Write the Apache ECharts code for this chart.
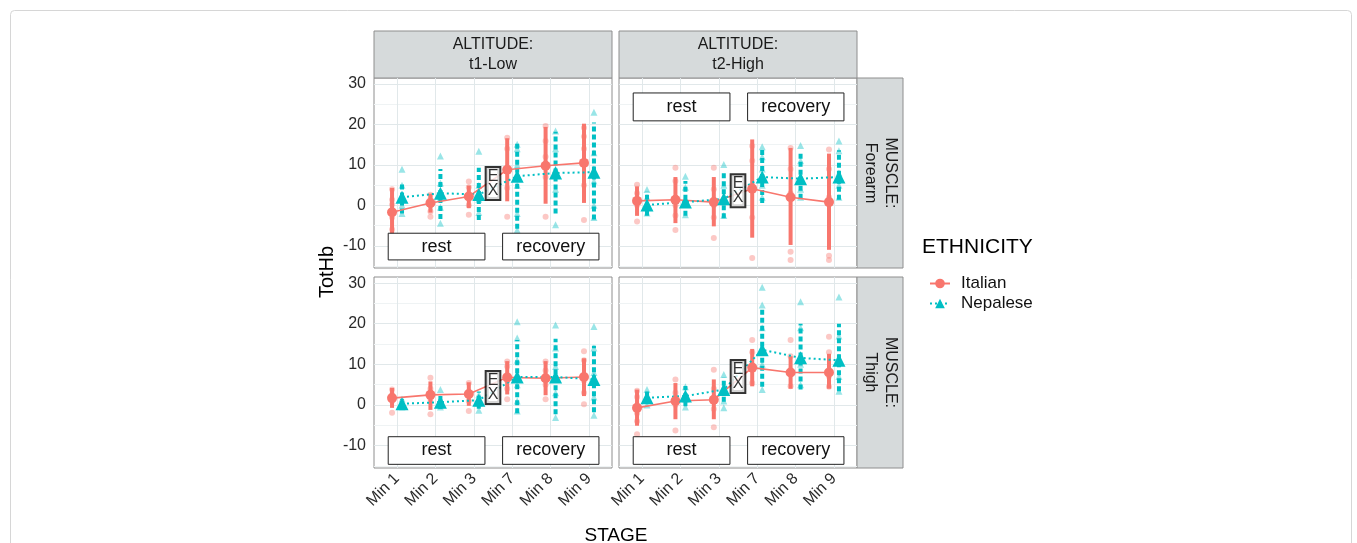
<!DOCTYPE html>
<html><head><meta charset="utf-8">
<script src="https://cdn.jsdelivr.net/npm/echarts@6/dist/echarts.min.js"></script>
<style>html,body{margin:0;padding:0;background:#fff}#c{width:1357px;height:543px}</style>
</head><body><div id="c"></div><script>
// ---------- categories / ticks ----------
const stages = ['Min 1', 'Min 2', 'Min 3', 'Min 7', 'Min 8', 'Min 9'];
const yTicks = [-10, 0, 10, 20, 30];
const yMinor = [-15, -5, 5, 15, 25];
const altitudes = ['t1-Low', 't2-High'];
const muscles = ['Forearm', 'Thigh'];
const ethnicities = ['Italian', 'Nepalese'];

// ---------- ALTITUDE t1-Low, MUSCLE Forearm ----------
const lowForearmItalianMean = [-1.7, 0.6, 2.2, 8.8, 9.8, 10.5];
const lowForearmItalianLo   = [-7.8, -1.8, -0.7, 1.0, 0.4, 0.6];
const lowForearmItalianHi   = [4.3, 2.9, 4.9, 16.6, 19.4, 20.2];
const lowForearmItalianRaw  = [[4, 1.4, 0.2, -3, -6], [2.6, 1.5, 0, -1.5, -2.8], [5.9, 4.5, 2, 0, -2.3], [16.7, 14, 9, 4.3, -2.8], [19.6, 15.9, 12, 7, -2.8], [19.2, 17, 14, 5, -3.6]];
const lowForearmNepaleseMean = [2.0, 3.0, 2.7, 7.2, 8.0, 8.2];
const lowForearmNepaleseLo   = [-2.0, -3.4, -3.6, -5.8, -2.0, -3.5];
const lowForearmNepaleseHi   = [5.9, 9.0, 9.3, 15.3, 18.2, 20.5];
const lowForearmNepaleseRaw  = [[8.9, 5, 2.5, 0, -2], [12.2, 5.5, 2, -0.5, -4.4], [13.4, 5, 1.5, -1.8], [15.1, 14, 10, 5, -2, -6.1], [18.4, 14, 9, 4, -4.8], [23, 13, 6, 0, -3]];

// ---------- ALTITUDE t2-High, MUSCLE Forearm ----------
const highForearmItalianMean = [1.1, 1.4, 0.8, 4.1, 2.0, 0.8];
const highForearmItalianLo   = [-2.6, -4.4, -5.2, -8.0, -9.8, -11.0];
const highForearmItalianHi   = [4.7, 7.0, 7.0, 16.3, 14.2, 12.8];
const highForearmItalianRaw  = [[5.1, 3, 0, -4], [9.3, 6, 0, -2.5, -6.1], [9.3, 4, 0, -3, -8.1], [14.7, 11, 5, -3, -13], [14.2, 9, 3, -11.5, -13.5], [13.8, 9, 2, -12.5, -13.5]];
const highForearmNepaleseMean = [0.1, 0.8, 1.6, 7.0, 6.6, 7.0];
const highForearmNepaleseLo   = [-2.6, -2.6, -3.2, 0.6, 1.6, 1.4];
const highForearmNepaleseHi   = [3.4, 6.0, 8.2, 14.0, 12.8, 13.6];
const highForearmNepaleseRaw  = [[3.9, 2, 0, -1.9], [7.2, 4.5, 1, -2.3], [10.1, 5, 1, -2.5], [14.5, 12, 9, 5, 2], [14.8, 11, 7, 4, 2], [15.9, 13.5, 8, 5, 2]];

// ---------- ALTITUDE t1-Low, MUSCLE Thigh ----------
const lowThighItalianMean = [1.7, 2.5, 2.7, 6.8, 6.6, 6.9];
const lowThighItalianLo   = [-0.7, -1.2, -0.2, 2.6, 2.4, 2.2];
const lowThighItalianHi   = [4.2, 5.8, 5.6, 10.8, 10.8, 11.5];
const lowThighItalianRaw  = [[3.8, 2.5, 1, -1.9], [6.7, 4, 1.5, -2.3], [5.4, 3, 1, -1.5], [10.7, 9.5, 6, 4, 1.4], [10.7, 8.5, 5, 1.4], [13.2, 11, 6, 3, 0.2]];
const lowThighNepaleseMean = [0.3, 0.7, 1.2, 6.9, 6.9, 6.3];
const lowThighNepaleseLo   = [-0.8, -1.0, -0.9, -2.0, -2.3, -1.8];
const lowThighNepaleseHi   = [1.4, 2.4, 3.3, 16.0, 16.3, 14.6];
const lowThighNepaleseRaw  = [[1.5, 0.3, -0.5], [3.8, 1.5, 0, -0.5], [2.5, 0.5, -1.3], [20.5, 16.5, 11, 5, 1, -1.5], [19.7, 14, 9.5, 3, -3.1], [19.3, 14, 8, 2, -2.5]];

// ---------- ALTITUDE t2-High, MUSCLE Thigh ----------
const highThighItalianMean = [-0.7, 1.0, 1.3, 9.2, 8.0, 8.0];
const highThighItalianLo   = [-5.1, -3.5, -3.5, 4.6, 4.0, 4.0];
const highThighItalianHi   = [3.8, 5.4, 6.3, 13.8, 12.0, 12.6];
const highThighItalianRaw  = [[3.5, 2, -2, -4, -7.2], [6.3, 3, 0, -6.3], [8.7, 4, -1, -5.5], [16, 13, 9, 5.4], [16, 12, 8, 4.6], [16.8, 13, 7, 4.5]];
const highThighNepaleseMean = [1.8, 2.2, 3.8, 13.6, 11.6, 11.0];
const highThighNepaleseLo   = [0.3, -0.3, 0.8, 4.5, 3.8, 3.4];
const highThighNepaleseHi   = [3.3, 4.7, 6.8, 24.0, 20.0, 20.0];
const highThighNepaleseRaw  = [[3.8, 1.5, 0], [4.5, 1.5, -0.5], [7.5, 4, 1, -0.7], [29, 24.6, 19, 10, 3.8], [25.4, 19, 10, 5], [26.6, 17, 7, 3.4]];

// ---------- annotations (data units) ----------
const annotLabels = ['rest', 'recovery'];
const annotX = [[-0.23, 2.29], [2.75, 5.26]];
const annotY = [[-13.5, -6.9], [20.9, 27.8], [-14.6, -7.8], [-14.6, -7.8]]; // TL, TR, BL, BR
const exLabel = 'E\nX';
const exX = 2.5;
const exY = [5.4, 3.6, 4.3, 7.0];

// ---------- panel wiring ----------
const panels = [
  { alt: 0, mus: 0, it: [lowForearmItalianMean, lowForearmItalianLo, lowForearmItalianHi, lowForearmItalianRaw], ne: [lowForearmNepaleseMean, lowForearmNepaleseLo, lowForearmNepaleseHi, lowForearmNepaleseRaw] },
  { alt: 1, mus: 0, it: [highForearmItalianMean, highForearmItalianLo, highForearmItalianHi, highForearmItalianRaw], ne: [highForearmNepaleseMean, highForearmNepaleseLo, highForearmNepaleseHi, highForearmNepaleseRaw] },
  { alt: 0, mus: 1, it: [lowThighItalianMean, lowThighItalianLo, lowThighItalianHi, lowThighItalianRaw], ne: [lowThighNepaleseMean, lowThighNepaleseLo, lowThighNepaleseHi, lowThighNepaleseRaw] },
  { alt: 1, mus: 1, it: [highThighItalianMean, highThighItalianLo, highThighItalianHi, highThighItalianRaw], ne: [highThighNepaleseMean, highThighNepaleseLo, highThighNepaleseHi, highThighNepaleseRaw] }
];

// ---------- layout / style ----------
const C_IT = '#F8766D', C_NE = '#00BFC4';
const DODGE = 0.13;
const gridLeft = [374, 619], gridTop = [78, 277], gridW = 238, gridH = [190, 191];
const FONT = 'Liberation Sans, Arial, Helvetica, sans-serif';
const GRID_MAJOR = '#e1e8ea', GRID_MINOR = '#eff3f4';

const grids = [], xAxes = [], yAxes = [], series = [];
panels.forEach((p, g) => {
  const isLeft = p.alt === 0, isBottom = p.mus === 1;
  grids.push({ left: gridLeft[p.alt], top: gridTop[p.mus], width: gridW, height: gridH[p.mus],
    show: true, backgroundColor: '#fff', borderColor: '#8e8e8e', borderWidth: 1 });
  const idx = stages.map((_, i) => i);
  xAxes.push({ type: 'value', gridIndex: g, min: -0.6, max: 5.6,
    splitLine: { show: false }, axisLine: { show: false },
    axisTick: { show: isBottom, customValues: idx, length: 4, lineStyle: { color: '#333' } },
    axisLabel: { show: isBottom, customValues: idx, formatter: v => stages[Math.round(v)], rotate: 45, margin: 8, fontSize: 16, color: '#2a2a2a', fontFamily: FONT } });
  yAxes.push({ type: 'value', gridIndex: g, min: -15.5, max: 31.5,
    splitLine: { show: false }, axisLine: { show: false },
    axisTick: { show: isLeft, customValues: yTicks, length: 4, lineStyle: { color: '#333' } },
    axisLabel: { show: isLeft, customValues: yTicks, margin: 8, fontSize: 16, color: '#2a2a2a', fontFamily: FONT } });

  const groups = [['Italian', p.it, -DODGE, C_IT, 'circle'], ['Nepalese', p.ne, DODGE, C_NE, 'triangle']];
  groups.forEach(([name, d, off, col, sym]) => {
    const [mean] = d;
    const isIt = name === 'Italian';
    series.push({ type: 'line', name, xAxisIndex: g, yAxisIndex: g, z: 5, animation: false,
      data: mean.map((v, i) => [i + off, v]), symbol: sym, symbolSize: isIt ? 10 : 13, color: col,
      itemStyle: { color: col }, lineStyle: { color: col, width: isIt ? 1.6 : 2, type: isIt ? 'solid' : [2, 3] } });
  });
  groups.forEach(([name, d, off, col]) => {
    const [mean, lo, hi] = d;
    const isIt = name === 'Italian';
    series.push({ type: 'custom', name, xAxisIndex: g, yAxisIndex: g, z: 4, animation: false,
      encode: { x: 0, y: [1, 2] },
      data: mean.map((v, i) => [i + off, lo[i], hi[i]]),
      renderItem: (params, api) => {
        const a = api.coord([api.value(0), api.value(1)]);
        const b = api.coord([api.value(0), api.value(2)]);
        return { type: 'line', shape: { x1: a[0], y1: a[1], x2: b[0], y2: b[1] },
          style: { stroke: col, lineWidth: isIt ? 4 : 4, lineDash: isIt ? null : [5, 3] } };
      } });
  });
  groups.forEach(([name, d, off, col, sym], k) => {
    const raw = d[3];
    const pts = [];
    raw.forEach((arr, i) => arr.forEach(v => pts.push([i + off, v])));
    const s = { type: 'scatter', name, xAxisIndex: g, yAxisIndex: g, z: 3, animation: false,
      data: pts, symbol: sym, symbolSize: sym === 'circle' ? 6 : 7,
      itemStyle: { color: col, opacity: 0.4 } };
    if (k === 0) {
      const ml = [];
      yTicks.forEach(v => ml.push({ yAxis: v, lineStyle: { color: GRID_MAJOR, width: 1, type: 'solid' } }));
      yMinor.forEach(v => ml.push({ yAxis: v, lineStyle: { color: GRID_MINOR, width: 1, type: 'solid' } }));
      stages.forEach((_, i) => ml.push({ xAxis: i, lineStyle: { color: GRID_MAJOR, width: 1, type: 'solid' } }));
      s.markLine = { silent: true, z: 1, animation: false, symbol: ['none', 'none'], label: { show: false }, data: ml };
    }
    series.push(s);
  });
  // annotations: EX box + rest/recovery boxes
  series.push({ type: 'scatter', name: 'annot', xAxisIndex: g, yAxisIndex: g, z: 8, animation: false, silent: true,
    data: [[exX, exY[g]]], symbolSize: 1, itemStyle: { color: 'rgba(0,0,0,0)' },
    label: { show: true, position: 'inside', formatter: exLabel, fontSize: 16, lineHeight: 14, color: '#000', fontFamily: FONT,
      backgroundColor: '#fff', borderColor: '#000', borderWidth: 2, padding: [2, 1, 1, 1] },
    markArea: { silent: true, z: 7, animation: false,
      itemStyle: { color: '#fff', borderColor: '#222', borderWidth: 1 },
      label: { show: true, position: 'inside', fontSize: 18, color: '#111', fontFamily: FONT },
      data: annotLabels.map((lab, j) => [
        { name: lab, coord: [annotX[j][0], annotY[g][1]] },
        { coord: [annotX[j][1], annotY[g][0]] }
      ]) } });
});

// ---------- strips, titles ----------
const graphics = [];
graphics.push({ type: 'rect', left: 8, top: 8, shape: { width: 1341, height: 560, r: 4 }, style: { fill: 'none', stroke: '#d6d6d6', lineWidth: 1 }, z: -10 });
altitudes.forEach((a, i) => {
  graphics.push({ type: 'rect', x: gridLeft[i], y: 31, shape: { width: gridW, height: 47 }, style: { fill: '#d6dadb', stroke: '#8e8e8e', lineWidth: 1 }, z: 1 });
  graphics.push({ type: 'text', x: gridLeft[i] + gridW / 2, y: 55, style: { text: 'ALTITUDE:\n' + a, fontSize: 16, lineHeight: 20, fill: '#1a1a1a', fontFamily: FONT, align: 'center', verticalAlign: 'middle' }, z: 2 });
});
muscles.forEach((m, j) => {
  const x0 = gridLeft[1] + gridW;
  graphics.push({ type: 'rect', x: x0, y: gridTop[j], shape: { width: 46, height: gridH[j] }, style: { fill: '#d6dadb', stroke: '#8e8e8e', lineWidth: 1 }, z: 1 });
  graphics.push({ type: 'text', x: x0 + 23, y: gridTop[j] + gridH[j] / 2, rotation: -Math.PI / 2,
    style: { text: 'MUSCLE:\n' + m, fontSize: 16, lineHeight: 20, fill: '#1a1a1a', fontFamily: FONT, align: 'center', verticalAlign: 'middle' }, z: 2 });
});
graphics.push({ type: 'text', x: 327, y: 272, rotation: Math.PI / 2, style: { text: 'TotHb', fontSize: 20, fill: '#000', fontFamily: FONT, align: 'center', verticalAlign: 'middle' } });
graphics.push({ type: 'text', x: 616, y: 536, style: { text: 'STAGE', fontSize: 19, fill: '#000', fontFamily: FONT, align: 'center', verticalAlign: 'middle' } });
graphics.push({ type: 'text', x: 922, y: 247, style: { text: 'ETHNICITY', fontSize: 21, fill: '#000', fontFamily: FONT, align: 'left', verticalAlign: 'middle' } });

const chart = echarts.init(document.getElementById('c'), null, { renderer: 'canvas' });
chart.setOption({
  animation: false,
  backgroundColor: '#fff',
  textStyle: { fontFamily: FONT },
  grid: grids, xAxis: xAxes, yAxis: yAxes, series,
  legend: { data: ethnicities, orient: 'vertical', left: 924, top: 270, itemWidth: 20, itemHeight: 12, itemGap: 3,
    selectedMode: false, textStyle: { fontSize: 17, color: '#111', fontFamily: FONT, padding: [0, 0, 0, 6] } },
  graphic: graphics
});
</script></body></html>
